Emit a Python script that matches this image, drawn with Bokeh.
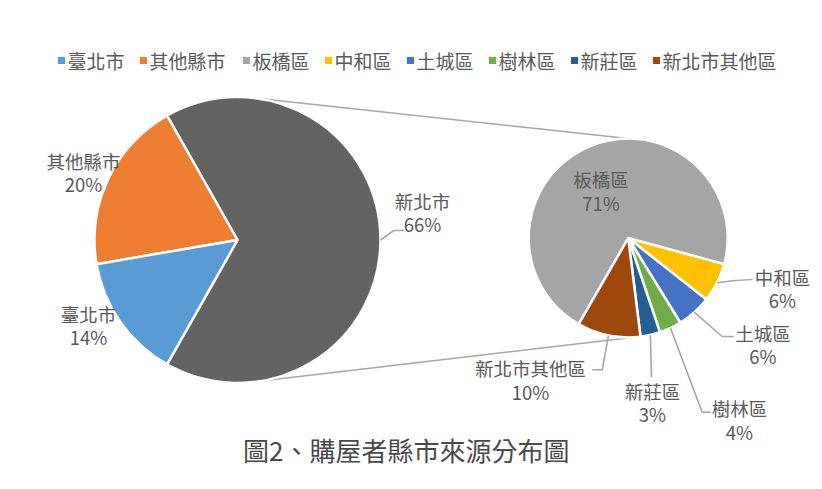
import math
from bokeh.plotting import figure
from bokeh.models import ColumnDataSource
from bokeh.core.properties import value
from bokeh.embed import file_html
from bokeh.resources import INLINE

# ---------------- data ----------------
title_text = "圖2、購屋者縣市來源分布圖"

outer_cats = ["新北市", "其他縣市", "臺北市"]
outer_vals = [66.4, 19.5, 14.1]
outer_colors = ["#636363", "#ED7D31", "#5B9BD5"]

inner_cats = ["中和區", "土城區", "樹林區", "新莊區", "新北市其他區", "板橋區"]
inner_vals = [6.4, 5.6, 3.6, 3.2, 10.3, 70.9]
inner_colors = ["#FFC000", "#4472C4", "#70AD47", "#255E91", "#9E480E", "#A5A5A5"]

legend_labels = ["臺北市", "其他縣市", "板橋區", "中和區", "土城區", "樹林區", "新莊區", "新北市其他區"]
legend_colors = ["#5B9BD5", "#ED7D31", "#A5A5A5", "#FFC000", "#4472C4", "#70AD47", "#255E91", "#9E480E"]

# ---------------- layout (screen pixels) ----------------
W, H = 816, 484
def X(sx): return sx
def Y(sy): return H - sy

FONT = value("Noto Sans CJK TC")
TXT = "#595959"
LINE = "#A6A6A6"

L_C = (237.0, 239.5); L_R = 143.0
R_C = (627.7, 237.5); R_R = 99.5
R_START_DEG = -15.2

label_pos = {
    "新北市": (422, 200), "其他縣市": (83, 160), "臺北市": (88, 313),
    "板橋區": (600.5, 178.5), "中和區": (782, 276), "土城區": (762.5, 332),
    "樹林區": (739, 407.5), "新莊區": (652, 390), "新北市其他區": (530, 367.5),
}
leader_tail = {
    "新北市": [(393.3, 230), (403.3, 230)],
    "中和區": [(735, 280), (752, 279)],
    "土城區": [(721.7, 336), (733.3, 336)],
    "樹林區": [(701.7, 411.7), (710, 411.7)],
    "新莊區": [(651, 377)],
    "新北市其他區": [(601.7, 369.3), (591.7, 369.3)],
}
legend_x = [61, 143, 246, 328, 410, 492, 574, 656]
legend_y = 60

p = figure(width=W, height=H, x_range=(0, W), y_range=(0, H),
           output_backend="svg", toolbar_location=None, min_border=0)
p.axis.visible = False
p.grid.visible = False
p.outline_line_color = None
p.background_fill_color = "white"

# ---- connector lines between pies ----
def on_circle(c, r, deg):
    a = math.radians(deg)
    return (c[0] + r * math.cos(a), c[1] - r * math.sin(a))

t1 = on_circle(L_C, L_R, 83.3); t2 = on_circle(R_C, R_R, 90)
b1 = on_circle(L_C, L_R, -79.7); b2 = on_circle(R_C, R_R, -88)
p.multi_line(xs=[[X(t1[0]), X(t2[0])], [X(b1[0]), X(b2[0])]],
             ys=[[Y(t1[1]), Y(t2[1])], [Y(b1[1]), Y(b2[1])]],
             line_color=LINE, line_width=1.6)

# ---- left pie ----
tot = sum(outer_vals)
s = -outer_vals[0] / tot * math.pi
starts, ends, mids = [], [], []
for v in outer_vals:
    e = s + v / tot * 2 * math.pi
    starts.append(s); ends.append(e); mids.append((s + e) / 2)
    s = e
src_l = ColumnDataSource(dict(x=[X(L_C[0])] * 3, y=[Y(L_C[1])] * 3,
                              start=starts, end=ends, color=outer_colors))
p.wedge(x="x", y="y", radius=L_R, start_angle="start", end_angle="end",
        fill_color="color", line_color="white", line_width=2.5, source=src_l)
outer_mid = dict(zip(outer_cats, mids))

# ---- right pie (clockwise from R_START_DEG) ----
tot2 = sum(inner_vals)
a0 = math.radians(R_START_DEG)
cum = 0.0
rs, re_, rm = [], [], []
for v in inner_vals:
    c0 = cum; c1 = cum + v / tot2 * 2 * math.pi
    rs.append(a0 - c1); re_.append(a0 - c0); rm.append(a0 - (c0 + c1) / 2)
    cum = c1
src_r = ColumnDataSource(dict(x=[X(R_C[0])] * 6, y=[Y(R_C[1])] * 6,
                              start=rs, end=re_, color=inner_colors))
p.wedge(x="x", y="y", radius=R_R, start_angle="start", end_angle="end",
        fill_color="color", line_color="white", line_width=2.5, source=src_r)
inner_mid = dict(zip(inner_cats, rm))

# ---- leader lines ----
lx, ly = [], []
for name, tail in leader_tail.items():
    if name in outer_mid:
        c, r, a = L_C, L_R, outer_mid[name]
    else:
        c, r, a = R_C, R_R, inner_mid[name]
    sx = c[0] + r * math.cos(a); sy = c[1] - r * math.sin(a)
    pts = [(sx, sy)] + tail
    lx.append([X(q[0]) for q in pts]); ly.append([Y(q[1]) for q in pts])
p.multi_line(xs=lx, ys=ly, line_color=LINE, line_width=1.6)

# ---- data labels ----
names, pcts = outer_cats + inner_cats, outer_vals + inner_vals
tx, ty, tt = [], [], []
for n, v in zip(names, pcts):
    sx, sy = label_pos[n]
    tx += [X(sx), X(sx)]; ty += [Y(sy), Y(sy + 23.5)]
    tt += [n, f"{v:.0f}%"]
p.text(x=tx, y=ty, text=tt, text_font=FONT, text_font_size="18.5px",
       text_color=TXT, text_align="center", text_baseline="middle")

# ---- legend ----
p.scatter(x=[X(v) for v in legend_x], y=[Y(legend_y)] * len(legend_x),
          marker="square", size=7, fill_color=legend_colors, line_color=None)
p.text(x=[X(v + 6) for v in legend_x], y=[Y(legend_y)] * len(legend_x),
       text=legend_labels, text_font=FONT, text_font_size="19px",
       text_color=TXT, text_align="left", text_baseline="middle")

# ---- title ----
p.text(x=[X(405.8)], y=[Y(449)], text=[title_text], text_font=FONT,
       text_font_size="26px", text_color="#4a4a4a",
       text_align="center", text_baseline="middle")

open("out.html", "w").write(file_html(p, INLINE))
